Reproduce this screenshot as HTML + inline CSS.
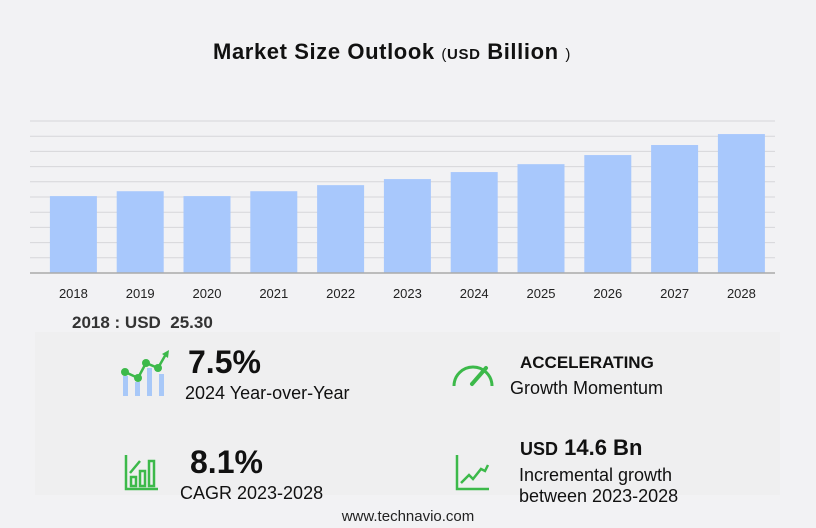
<!DOCTYPE html>
<html><head><meta charset="utf-8"><style>
body{margin:0;width:816px;height:528px;background:#f2f2f4;font-family:"Liberation Sans",sans-serif;position:relative;overflow:hidden}
.a{position:absolute;white-space:nowrap;color:#111}
</style></head><body>
<div class="a" style="left:-16px;width:816px;text-align:center;top:39px;font-size:22px;font-weight:bold;letter-spacing:0.6px">Market Size Outlook <span style="font-size:15px;font-weight:normal">(</span><span style="font-size:15px">USD</span> Billion <span style="font-size:15px;font-weight:normal">)</span></div>
<svg id="chart" width="816" height="310" style="position:absolute;left:0;top:0"></svg>
<div class="a" style="left:72px;top:313px;font-size:17px;font-weight:bold;color:#333">2018 : USD&nbsp; 25.30</div>
<div style="position:absolute;left:35px;top:332px;width:745px;height:163px;background:#efeff0"></div>
<svg style="position:absolute;left:118px;top:350px" width="52" height="48">
<rect x="5" y="26" width="5" height="20" fill="#a8c8f8"/><rect x="17" y="32" width="5" height="14" fill="#a8c8f8"/><rect x="29" y="18" width="5" height="28" fill="#a8c8f8"/><rect x="41" y="24" width="5" height="22" fill="#a8c8f8"/>
<polyline points="7,22 20,28 28,13 40,18 48,4" fill="none" stroke="#3cb94a" stroke-width="2.5"/>
<circle cx="7" cy="22" r="4" fill="#3cb94a"/><circle cx="20" cy="28" r="4" fill="#3cb94a"/><circle cx="28" cy="13" r="4" fill="#3cb94a"/><circle cx="40" cy="18" r="4" fill="#3cb94a"/><polygon points="44,4 51,0 50,8" fill="#3cb94a"/></svg>
<div class="a" style="left:188px;top:344px;font-size:32px;font-weight:bold">7.5%</div>
<div class="a" style="left:185px;top:383px;font-size:18px">2024 Year-over-Year</div>
<svg style="position:absolute;left:450px;top:358px" width="46" height="30">
<path d="M4,28 A19,19 0 0 1 42,28" fill="none" stroke="#3cb94a" stroke-width="3"/>
<line x1="22" y1="26" x2="36" y2="10" stroke="#3cb94a" stroke-width="4" stroke-linecap="round"/></svg>
<div class="a" style="left:520px;top:353px;font-size:17px;font-weight:bold">ACCELERATING</div>
<div class="a" style="left:510px;top:378px;font-size:18px">Growth Momentum</div>
<svg style="position:absolute;left:124px;top:455px" width="36" height="36">
<g fill="none" stroke="#3cb94a" stroke-width="2.5"><polyline points="2,0 2,34 34,34"/><rect x="7" y="22" width="5" height="9"/><rect x="16" y="16" width="5" height="15"/><rect x="25" y="6" width="5" height="25"/><line x1="6" y1="18" x2="16" y2="6"/></g></svg>
<div class="a" style="left:190px;top:444px;font-size:32px;font-weight:bold">8.1%</div>
<div class="a" style="left:180px;top:483px;font-size:18px">CAGR 2023-2028</div>
<svg style="position:absolute;left:455px;top:455px" width="36" height="36">
<g fill="none" stroke="#3cb94a" stroke-width="2.5"><polyline points="2,0 2,34 34,34"/><polyline points="6,28 14,20 18,24 26,14 30,16 33,10"/></g></svg>
<div class="a" style="left:520px;top:435px;font-size:22px;font-weight:bold"><span style="font-size:18px">USD</span> 14.6 Bn</div>
<div class="a" style="left:519px;top:465px;font-size:18px;line-height:21px">Incremental growth<br>between 2023-2028</div>
<div class="a" style="left:0;width:816px;text-align:center;top:508px;font-size:15px;color:#222">www.technavio.com</div>
<script>
const years=["2018","2019","2020","2021","2022","2023","2024","2025","2026","2027","2028"];
const values=[25.3,26.9,25.3,26.9,28.9,30.9,33.2,35.8,38.8,42.1,45.7];
const gridTicks=[5,10,15,20,25,30,35,40,45,50];
const svg=document.getElementById('chart');const NS="http://www.w3.org/2000/svg";
const y0=273,pxPer=152/50,x0=40,step=66.8,bw=47;
const Y=v=>y0-v*pxPer, X=i=>x0+step*i+step/2;
function mk(t,a){const e=document.createElementNS(NS,t);for(const k in a)e.setAttribute(k,a[k]);svg.appendChild(e);return e;}
gridTicks.forEach(t=>{const l=mk('line',{x1:30,x2:775,y1:Y(t),y2:Y(t),stroke:'#d6d6da','stroke-width':1});

});
values.forEach((v,i)=>{const r=mk('rect',{x:X(i)-bw/2,y:Y(v),width:bw,height:v*pxPer,fill:'#a8c8fc'});


const t=mk('text',{x:X(i),y:298,'text-anchor':'middle','font-size':13,fill:'#222','font-family':'Liberation Sans'});t.textContent=years[i];

});
const ax=mk('line',{x1:30,x2:775,y1:y0,y2:y0,stroke:'#aaa','stroke-width':1.5});


</script>
</body></html>
